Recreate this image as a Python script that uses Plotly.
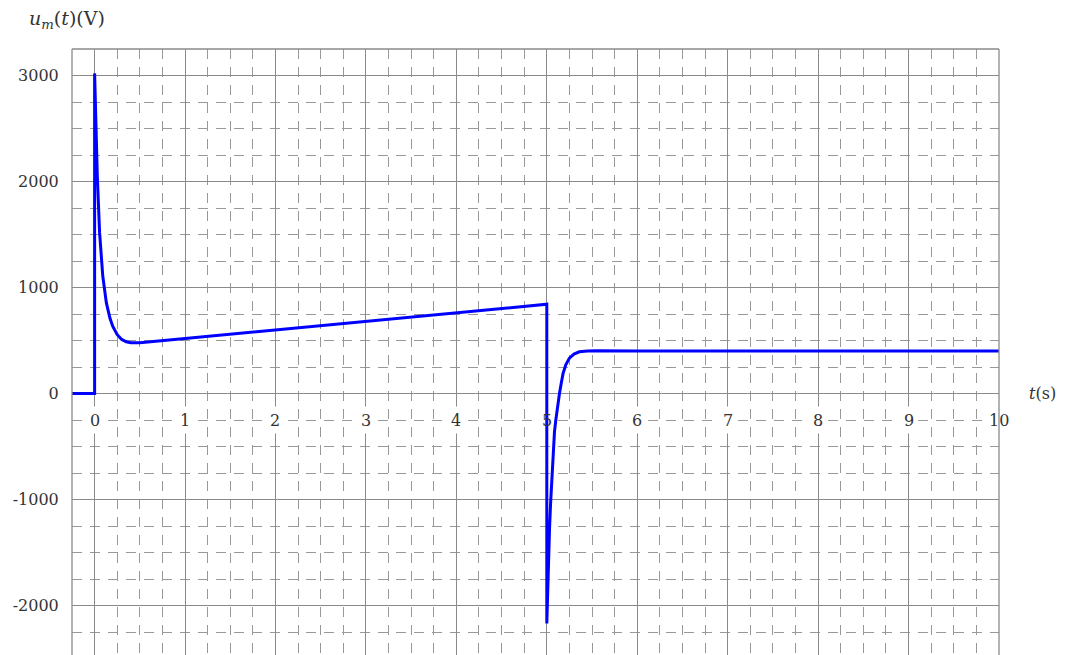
import plotly.graph_objects as go

# ---- data ----
t_vals = [-0.25, 0.0, 0.0, 0.015, 0.03, 0.055, 0.09, 0.13, 0.17, 0.20, 0.25, 0.30, 0.35, 0.40, 0.45, 0.50,
          1.0, 2.0, 3.0, 4.0, 5.0,
          5.0, 5.01, 5.02, 5.03, 5.042, 5.055, 5.07, 5.085, 5.10, 5.12, 5.14, 5.16, 5.18, 5.21, 5.25,
          5.30, 5.36, 5.45, 5.55, 6.0, 7.0, 8.0, 9.0, 10.0]
u_vals = [0, 0, 3020, 2450, 2050, 1520, 1110, 855, 710, 635, 555, 510, 488, 478, 476, 478,
          518, 599, 680, 761, 842,
          -2170, -1830, -1550, -1280, -1034, -790, -500, -360, -248, -110, 0, 100, 190, 270, 334,
          372, 393, 402, 404, 402, 401, 400, 400, 400]

x_ticks = [0, 1, 2, 3, 4, 5, 6, 7, 8, 9, 10]
x_labels = ["0", "1", "2", "3", "4", "5", "6", "7", "8", "9", "10"]
y_ticks = [-2000, -1000, 0, 1000, 2000, 3000]
y_labels = ["-2000", "-1000", "0", "1000", "2000", "3000"]

x_range = [-0.25, 10]
y_range = [-2467, 3250]

FONT = "DejaVu Serif"
TXT = "#333333"
MAJOR = "#8a8a8a"
MINOR = "#999999"

fig = go.Figure()
fig.add_trace(go.Scatter(x=t_vals, y=u_vals, mode="lines",
                         line=dict(color="#0000ff", width=3), hoverinfo="skip",
                         showlegend=False))

fig.update_xaxes(range=x_range, tickvals=x_ticks, showticklabels=False, ticks="",
                 showgrid=True, gridcolor=MAJOR, gridwidth=1.3,
                 zeroline=True, zerolinecolor=MAJOR, zerolinewidth=1.3,
                 showline=False,
                 minor=dict(dtick=0.25, tick0=0, showgrid=True, gridcolor=MINOR,
                            gridwidth=1.1, griddash="10px,8px", ticks=""))
fig.update_yaxes(range=y_range, tickvals=y_ticks, ticktext=y_labels,
                 ticks="outside", ticklen=9, tickcolor="rgba(0,0,0,0)",
                 tickfont=dict(family=FONT, size=16, color=TXT),
                 showgrid=True, gridcolor=MAJOR, gridwidth=1.3,
                 zeroline=True, zerolinecolor=MAJOR, zerolinewidth=1.3,
                 showline=False,
                 minor=dict(dtick=250, tick0=0, showgrid=True, gridcolor=MINOR,
                            gridwidth=1.1, griddash="10px,8px", ticks=""))

# border (left, top, right); bottom edge lies outside the picture
shapes = [
    dict(type="line", xref="x domain", yref="y domain", x0=0, x1=0, y0=0, y1=1,
         line=dict(color=MAJOR, width=1.3), layer="above"),
    dict(type="line", xref="x domain", yref="y domain", x0=1, x1=1, y0=0, y1=1,
         line=dict(color=MAJOR, width=1.3), layer="above"),
    dict(type="line", xref="x domain", yref="y domain", x0=0, x1=1, y0=1, y1=1,
         line=dict(color=MAJOR, width=1.3), layer="above"),
]
annotations = []
for v, lab in zip(x_ticks, x_labels):
    hw = 9 if len(lab) == 1 else 14
    shapes.append(dict(type="rect", xref="x", yref="y", xsizemode="pixel", ysizemode="pixel",
                       xanchor=v, yanchor=0, x0=-hw, x1=hw, y0=-13, y1=-40,
                       fillcolor="white", line=dict(width=0), layer="between"))
    annotations.append(dict(x=v, y=0, xref="x", yref="y", text=lab, showarrow=False,
                            yshift=-27, xanchor="center", yanchor="middle",
                            font=dict(family=FONT, size=16, color=TXT)))

annotations.append(dict(x=1.030, y=0, xref="paper", yref="y",
                        text="<i>t</i>(s)", showarrow=False, xanchor="left", yanchor="middle",
                        font=dict(family=FONT, size=16, color=TXT)))
annotations.append(dict(x=-0.0485, y=1.048, xref="paper", yref="paper",
                        text="<i>u</i><sub><i>m</i></sub>(<i>t</i>)(V)", showarrow=False,
                        xanchor="left", yanchor="middle",
                        font=dict(family=FONT, size=19, color=TXT)))

fig.update_layout(width=1065, height=655, margin=dict(l=72, r=66, t=49, b=0),
                  paper_bgcolor="white", plot_bgcolor="white",
                  shapes=shapes, annotations=annotations, showlegend=False)

fig.write_html("out.html", config={"displayModeBar": False})
with open("out.html", "r", encoding="utf-8") as f:
    html = f.read()
html = html.replace("<body>", '<body style="margin:0;overflow:hidden">', 1)
with open("out.html", "w", encoding="utf-8") as f:
    f.write(html)
